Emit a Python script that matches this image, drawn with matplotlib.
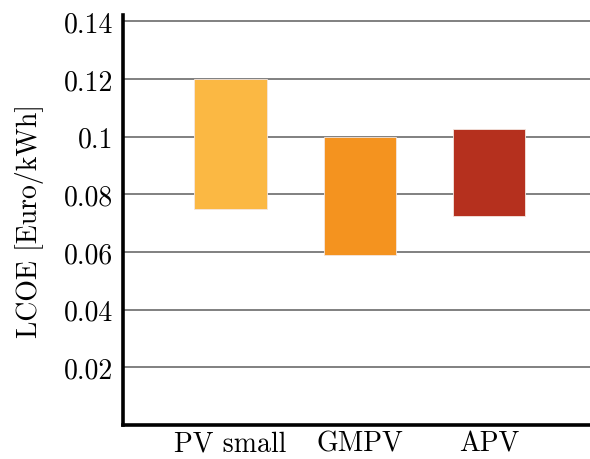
import matplotlib
matplotlib.use("Agg")
import matplotlib.pyplot as plt

# data
categories = ["PV small", "GMPV", "APV"]
lcoe_low = [0.075, 0.059, 0.0725]
lcoe_high = [0.12, 0.10, 0.1025]
colors = ["#FBB843", "#F4931F", "#B5301E"]
yticks = [0.02, 0.04, 0.06, 0.08, 0.1, 0.12, 0.14]
ytick_labels = ["0.02", "0.04", "0.06", "0.08", "0.1", "0.12", "0.14"]

plt.rcParams["font.family"] = ["cmr10", "DejaVu Serif"]
plt.rcParams["mathtext.fontset"] = "cm"
plt.rcParams["axes.formatter.use_mathtext"] = True

fig = plt.figure(figsize=(5.9, 4.6), dpi=100)
ax = fig.add_axes([0.2085, 0.074, 0.7915, 0.891])

x = list(range(len(categories)))
heights = [h - l for l, h in zip(lcoe_low, lcoe_high)]
ax.bar(x, heights, bottom=lcoe_low, width=0.56, color=colors,
       edgecolor="#f4e6e0", linewidth=0.6, zorder=3)

ax.set_xlim(-0.83, 2.78)
ax.set_ylim(0, 0.1421)
ax.set_yticks(yticks)
ax.set_yticklabels(ytick_labels)
ax.set_xticks(x)
ax.set_xticklabels(categories)
ax.tick_params(axis="y", length=0, labelsize=20, pad=7)
ax.tick_params(axis="x", length=0, labelsize=20, pad=4)
ax.grid(axis="y", color="#808080", linewidth=1.4, zorder=0)
ax.set_axisbelow(True)

for side in ["top", "right"]:
    ax.spines[side].set_visible(False)
for side in ["left", "bottom"]:
    ax.spines[side].set_linewidth(2.6)
    ax.spines[side].set_color("black")

ax.set_ylabel("LCOE [Euro/kWh]", fontsize=20, labelpad=14)

fig.savefig("out.png", dpi=100)
